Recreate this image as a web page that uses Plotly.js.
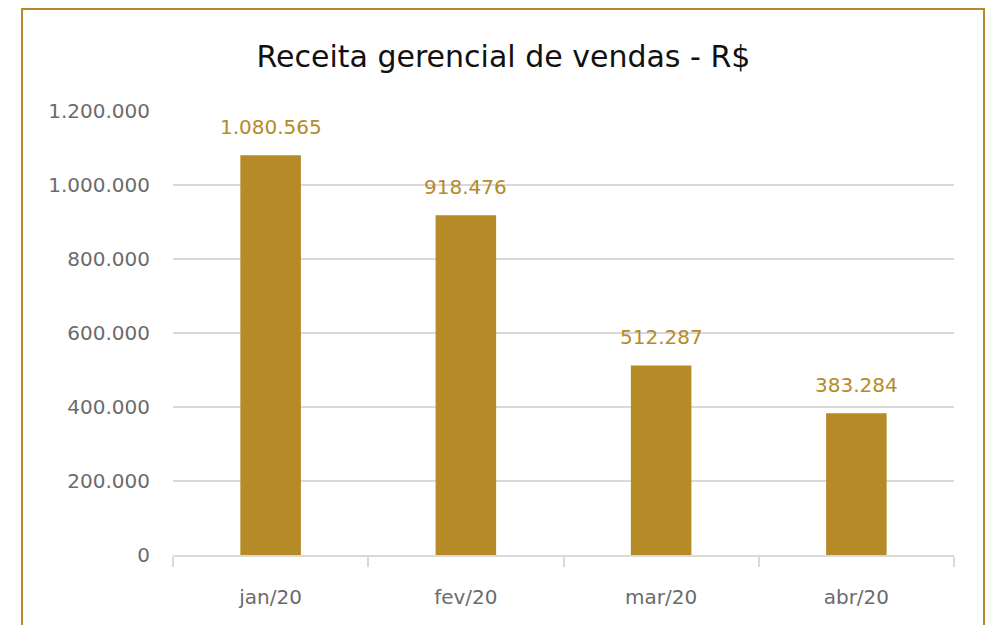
<!DOCTYPE html>
<html><head><meta charset="utf-8">
<script src="https://cdn.plot.ly/plotly-3.0.1.min.js"></script>
<style>html,body{margin:0;padding:0;background:#fff;}#c{width:991px;height:625px;}</style>
</head><body><div id="c"></div>
<script>
const categories = ["jan/20", "fev/20", "mar/20", "abr/20"];
const receita = [1080565, 918476, 512287, 383284];
const yTicks = [0, 200000, 400000, 600000, 800000, 1000000, 1200000];
const titleText = "Receita gerencial de vendas - R$";

const gold = "#b58a27";
const fontFam = "'DejaVu Sans', sans-serif";

const trace = {
  type: "bar",
  x: categories,
  y: receita,
  marker: {color: gold},
  textposition: "none",
  cliponaxis: false,
  hoverinfo: "skip"
};

const fmt = v => v.toLocaleString("pt-BR");

const annotations = categories.map((c, i) => ({
  x: c, y: receita[i], xref: "x", yref: "y",
  text: fmt(receita[i]),
  showarrow: false, yanchor: "bottom", xanchor: "center", yshift: 14,
  font: {family: fontFam, size: 20, color: gold}
}));

const layout = {
  width: 991, height: 625,
  margin: {l: 173, r: 37, t: 111, b: 70},
  paper_bgcolor: "#fff", plot_bgcolor: "#fff",
  separators: ",.",
  bargap: 0.69,
  showlegend: false,
  title: {text: titleText, font: {family: fontFam, size: 30, color: "#111"}, x: 0.508, xanchor: "center", y: 0.91, yanchor: "middle"},
  xaxis: {
    type: "category",
    tickson: "boundaries",
    ticks: "outside", ticklen: 10, tickcolor: "#d9d9d9", tickwidth: 2,
    showline: true, linecolor: "#d9d9d9", linewidth: 2,
    showgrid: false,
    tickfont: {family: fontFam, size: 20, color: "#6b6b6b"},
    ticklabelstandoff: 23
  },
  yaxis: {
    range: [0, 1200000],
    tickvals: yTicks,
    tickformat: ",d",
    showgrid: true, gridcolor: "#d9d9d9", gridwidth: 2,
    zeroline: false,
    showline: false,
    ticks: "",
    tickfont: {family: fontFam, size: 20, color: "#6b6b6b"},
    ticklabelstandoff: 22
  },
  annotations: annotations,
  shapes: [{
    type: "rect", xref: "paper", yref: "paper",
    x0: -0.1933, x1: 1.0384, y0: -0.3, y1: 1.2297,
    line: {color: "#b8892a", width: 2}, fillcolor: "rgba(0,0,0,0)", layer: "below"
  }]
};

Plotly.newPlot("c", [trace], layout, {displayModeBar: false, staticPlot: true});
</script></body></html>
